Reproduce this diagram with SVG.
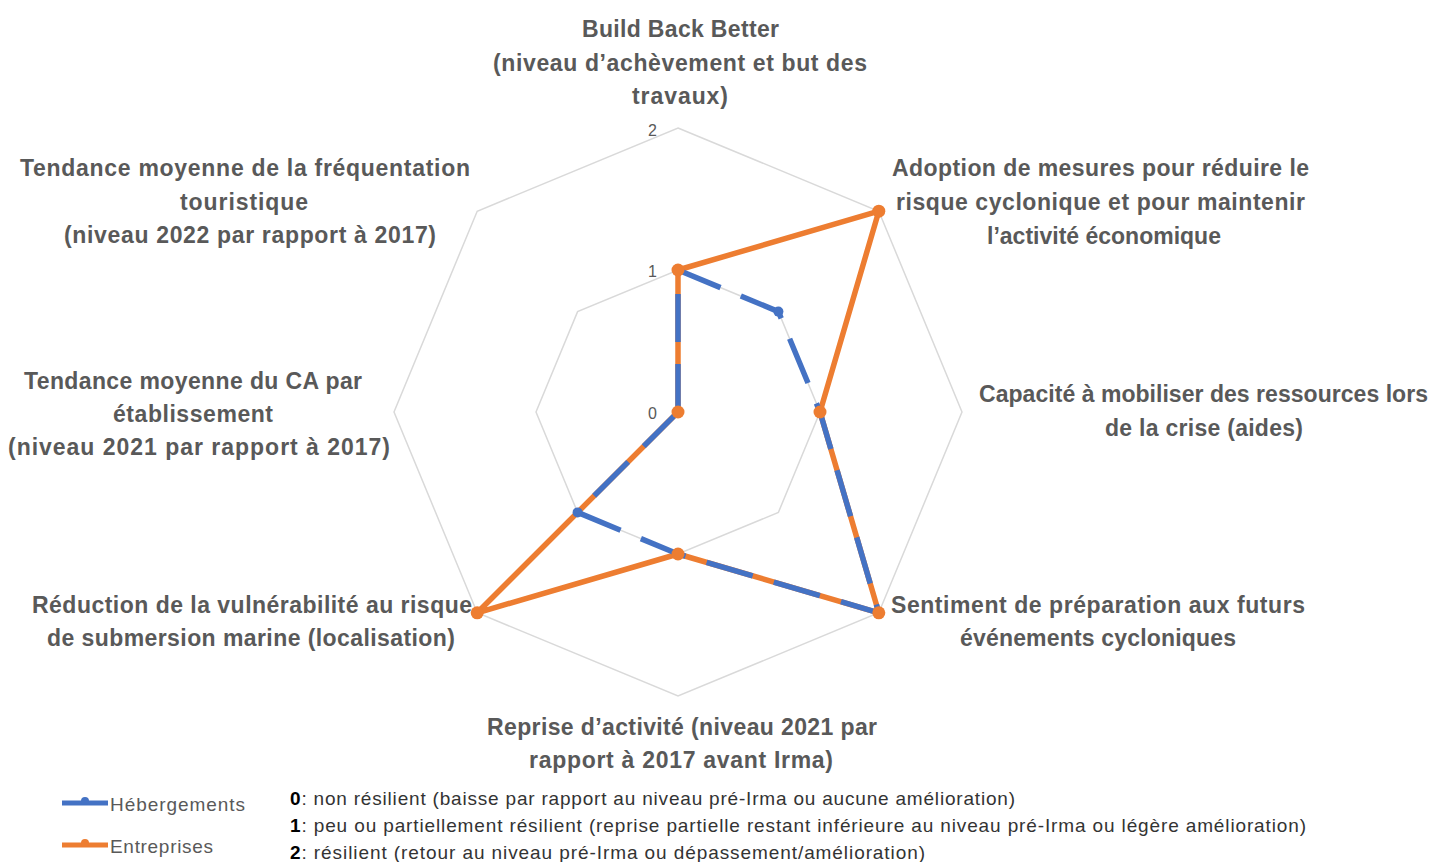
<svg xmlns="http://www.w3.org/2000/svg" width="1430" height="862" viewBox="0 0 1430 862">
  <style>
    .grid { fill: none; stroke: #D9D9D9; stroke-width: 1.5; }
    .tick { font-family: "Liberation Sans", Arial, sans-serif; font-size: 16px; fill: #595959; text-anchor: end; }
    .lbl { font-family: "Liberation Sans", Arial, sans-serif; font-size: 23px; font-weight: bold; fill: #595959; }
    .leg { font-family: "Liberation Sans", Arial, sans-serif; font-size: 19px; fill: #595959; }
    .note { font-family: "Liberation Sans", Arial, sans-serif; font-size: 19px; fill: #333333; }
    .note tspan.n { font-weight: bold; fill: #000000; }
    .s-org { fill: none; stroke: #ED7D31; stroke-width: 5.5; stroke-linejoin: round; }
    .s-blu { fill: none; stroke: #4472C4; stroke-width: 5.5; stroke-dasharray: 48 22; stroke-linejoin: round; }
    .m-org { fill: #ED7D31; }
    .m-blu { fill: #4472C4; }
  </style>

  <rect width="1430" height="862" fill="#ffffff"/>

  <!-- radar grid: center (678,412), 142 px per level -->
  <g id="grid">
    <polygon class="grid" points="678,270 778.4,311.6 820,412 778.4,512.4 678,554 577.6,512.4 536,412 577.6,311.6"/>
    <polygon class="grid" points="678,128 878.8,211.2 962,412 878.8,612.8 678,696 477.2,612.8 394,412 477.2,211.2"/>
    <text class="tick" x="657" y="136">2</text>
    <text class="tick" x="657" y="277">1</text>
    <text class="tick" x="657" y="419">0</text>
  </g>

  <!-- data series -->
  <g id="connectors">
    <polygon id="series-entreprises" class="s-org" points="678,270 878.8,211.2 820,412 878.8,612.8 678,554 477.2,612.8 678,412 678,412"/>
    <polygon id="series-hebergements" class="s-blu" points="678,412 678,270 778.4,311.6 820,412 878.8,612.8 678,554 577.6,512.4 678,412"/>
    <g id="markers-hebergements">
      <circle class="m-blu" cx="678" cy="270" r="5"/>
      <circle class="m-blu" cx="778.4" cy="311.6" r="5"/>
      <circle class="m-blu" cx="820" cy="412" r="5"/>
      <circle class="m-blu" cx="878.8" cy="612.8" r="5"/>
      <circle class="m-blu" cx="678" cy="554" r="5"/>
      <circle class="m-blu" cx="577.6" cy="512.4" r="5"/>
      <circle class="m-blu" cx="678" cy="412" r="5"/>
    </g>
    <g id="markers-entreprises">
      <circle class="m-org" cx="678" cy="270" r="6.5"/>
      <circle class="m-org" cx="878.8" cy="211.2" r="6.5"/>
      <circle class="m-org" cx="820" cy="412" r="6.5"/>
      <circle class="m-org" cx="878.8" cy="612.8" r="6.5"/>
      <circle class="m-org" cx="678" cy="554" r="6.5"/>
      <circle class="m-org" cx="477.2" cy="612.8" r="6.5"/>
      <circle class="m-org" cx="678" cy="412" r="6.5"/>
    </g>
  </g>

  <!-- axis labels -->
  <g id="axis-build-back-better">
    <text class="lbl" x="582" y="37" textLength="197">Build Back Better</text>
    <text class="lbl" x="493" y="71" textLength="374">(niveau d’achèvement et but des</text>
    <text class="lbl" x="632" y="104" textLength="96">travaux)</text>
  </g>
  <g id="axis-adoption">
    <text class="lbl" x="892" y="176" textLength="417">Adoption de mesures pour réduire le</text>
    <text class="lbl" x="896" y="210" textLength="409">risque cyclonique et pour maintenir</text>
    <text class="lbl" x="1104" y="244" text-anchor="middle">l’activité économique</text>
  </g>
  <g id="axis-capacite">
    <text class="lbl" x="979" y="402" textLength="449">Capacité à mobiliser des ressources lors</text>
    <text class="lbl" x="1105" y="436" textLength="198">de la crise (aides)</text>
  </g>
  <g id="axis-sentiment">
    <text class="lbl" x="891" y="613" textLength="414">Sentiment de préparation aux futurs</text>
    <text class="lbl" x="960" y="646" textLength="276">événements cycloniques</text>
  </g>
  <g id="axis-reprise">
    <text class="lbl" x="487" y="735" textLength="390">Reprise d’activité (niveau 2021 par</text>
    <text class="lbl" x="529" y="768" textLength="304">rapport à 2017 avant Irma)</text>
  </g>
  <g id="axis-reduction">
    <text class="lbl" x="32" y="613" textLength="440">Réduction de la vulnérabilité au risque</text>
    <text class="lbl" x="47" y="646" textLength="408">de submersion marine (localisation)</text>
  </g>
  <g id="axis-tendance-ca">
    <text class="lbl" x="24" y="389" textLength="338">Tendance moyenne du CA par</text>
    <text class="lbl" x="113" y="422" textLength="160">établissement</text>
    <text class="lbl" x="8" y="455" textLength="382">(niveau 2021 par rapport à 2017)</text>
  </g>
  <g id="axis-tendance-frequentation">
    <text class="lbl" x="20" y="176" textLength="450">Tendance moyenne de la fréquentation</text>
    <text class="lbl" x="180" y="210" textLength="128">touristique</text>
    <text class="lbl" x="64" y="243" textLength="372">(niveau 2022 par rapport à 2017)</text>
  </g>

  <!-- legend -->
  <g id="legend-hebergements">
    <line x1="62" y1="803" x2="108" y2="803" stroke="#4472C4" stroke-width="5"/>
    <circle cx="85" cy="801" r="4" fill="#4472C4"/>
    <text class="leg" x="110" y="811" textLength="135">Hébergements</text>
  </g>
  <g id="legend-entreprises">
    <line x1="62" y1="845" x2="108" y2="845" stroke="#ED7D31" stroke-width="5"/>
    <circle cx="85" cy="843" r="4" fill="#ED7D31"/>
    <text class="leg" x="110" y="853" textLength="103">Entreprises</text>
  </g>
  <g id="scale-notes">
    <text class="note" x="290" y="805" textLength="725"><tspan class="n">0</tspan>: non résilient (baisse par rapport au niveau pré-Irma ou aucune amélioration)</text>
    <text class="note" x="290" y="832" textLength="1016"><tspan class="n">1</tspan>: peu ou partiellement résilient (reprise partielle restant inférieure au niveau pré-Irma ou légère amélioration)</text>
    <text class="note" x="290" y="859" textLength="635"><tspan class="n">2</tspan>: résilient (retour au niveau pré-Irma ou dépassement/amélioration)</text>
  </g>
</svg>
